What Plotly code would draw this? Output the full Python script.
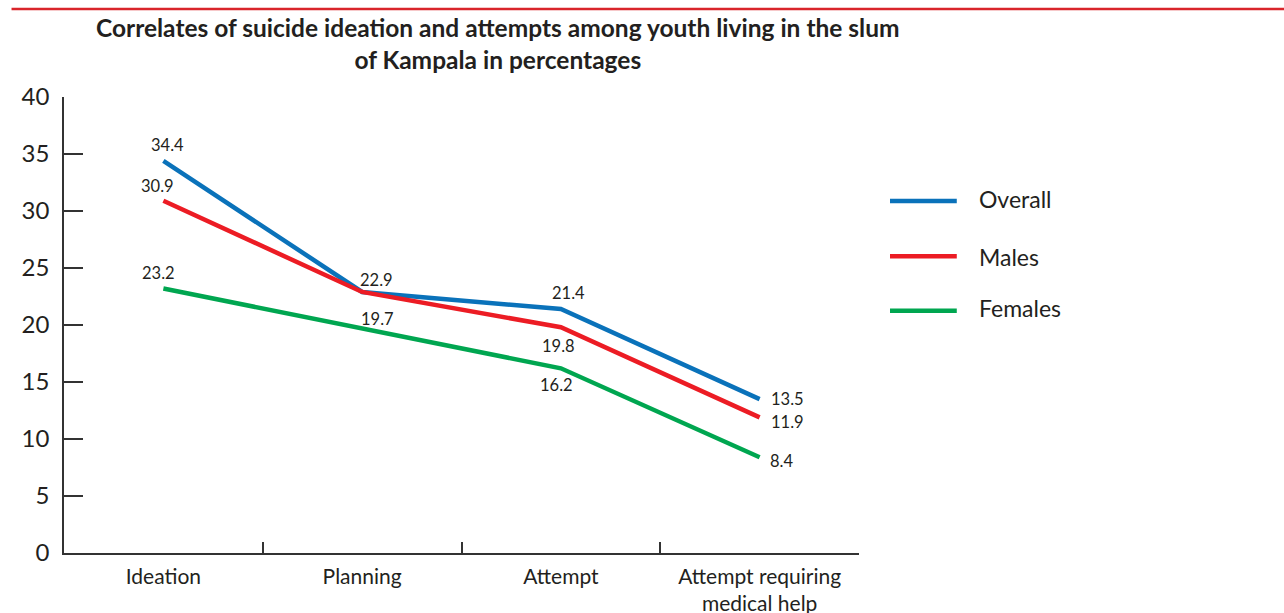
import plotly.graph_objects as go

# Categories and percentages
categories = ["Ideation", "Planning", "Attempt", "Attempt requiring<br>medical help"]
overall = [34.4, 22.9, 21.4, 13.5]
males = [30.9, 22.9, 19.8, 11.9]
females = [23.2, 19.7, 16.2, 8.4]

series_names = ["Overall", "Males", "Females"]
series_values = [overall, males, females]
series_colors = ["#0A72BA", "#EC1C24", "#00A650"]

# Pixel offsets (x, y) for each value label; None hides a label that
# would duplicate another series' identical value
label_offsets = [
    [(4, 16), (14, 12), (8, 16), (28, 0)],
    [(-6, 15), None, (-2, -19), (28, -5)],
    [(-5, 16), (15, 9), (-4, -17), (22, -4)],
]

FONT = "Lato, 'Open Sans', sans-serif"
TEXT = "#231F20"

fig = go.Figure()
annotations = []
shapes = []

for name, vals, color, offs in zip(series_names, series_values, series_colors, label_offsets):
    fig.add_trace(go.Scatter(
        x=categories, y=vals, mode="lines", name=name,
        line=dict(color=color, width=4.5),
        showlegend=False,
    ))
    for cat, v, off in zip(categories, vals, offs):
        if off is None:
            continue
        annotations.append(dict(
            x=cat, y=v, xref="x", yref="y", text=f"{v:.1f}",
            showarrow=False, xshift=off[0], yshift=off[1],
            font=dict(family=FONT, size=16.5, color=TEXT),
        ))

# Legend drawn beside the plot area
legend_y = [0.772, 0.651, 0.531]
legend_text_y = [0.776, 0.649, 0.538]
for name, color, ly, ty in zip(series_names, series_colors, legend_y, legend_text_y):
    shapes.append(dict(
        type="line", xref="paper", yref="paper",
        x0=1.039, x1=1.123, y0=ly, y1=ly,
        line=dict(color=color, width=4.5),
    ))
    annotations.append(dict(
        x=1.148, y=ty, xref="paper", yref="paper", text=name,
        showarrow=False, xanchor="left", yanchor="middle",
        font=dict(family=FONT, size=23, color=TEXT),
    ))

# Chart title
annotations.append(dict(
    x=0.546, y=1.118, xref="paper", yref="paper",
    text="<b>Correlates of suicide ideation and attempts among youth living in the slum<br>of Kampala in percentages</b>",
    showarrow=False, xanchor="center", yanchor="middle", align="center",
    font=dict(family=FONT, size=24.5, color=TEXT),
))

# Red rule across the top of the page
shapes.append(dict(
    type="line", xref="paper", yref="paper",
    x0=-0.066, x1=1.54, y0=1.193, y1=1.193,
    line=dict(color="#D9252B", width=2.5),
))

fig.update_layout(
    width=1284, height=613,
    margin=dict(l=64, r=425, t=97, b=60),
    paper_bgcolor="white", plot_bgcolor="white",
    showlegend=False,
    annotations=annotations,
    shapes=shapes,
    xaxis=dict(
        type="category", range=[-0.5, 3.5], automargin=False,
        showline=True, linecolor="#333333", linewidth=1.5,
        ticks="inside", tickson="boundaries", ticklen=11, tickwidth=1.5, tickcolor="#333333",
        ticklabelstandoff=4,
        showgrid=False, zeroline=False,
        tickfont=dict(family=FONT, size=21, color=TEXT),
    ),
    yaxis=dict(
        range=[0, 40], tickvals=[0, 5, 10, 15, 20, 25, 30, 35, 40], automargin=False,
        showline=True, linecolor="#333333", linewidth=1.5,
        ticks="inside", ticklen=19, tickwidth=1.5, tickcolor="#333333",
        ticklabelstandoff=8,
        showgrid=False, zeroline=False,
        tickfont=dict(family=FONT, size=24, color=TEXT),
    ),
)

fig.write_html("out.html")
